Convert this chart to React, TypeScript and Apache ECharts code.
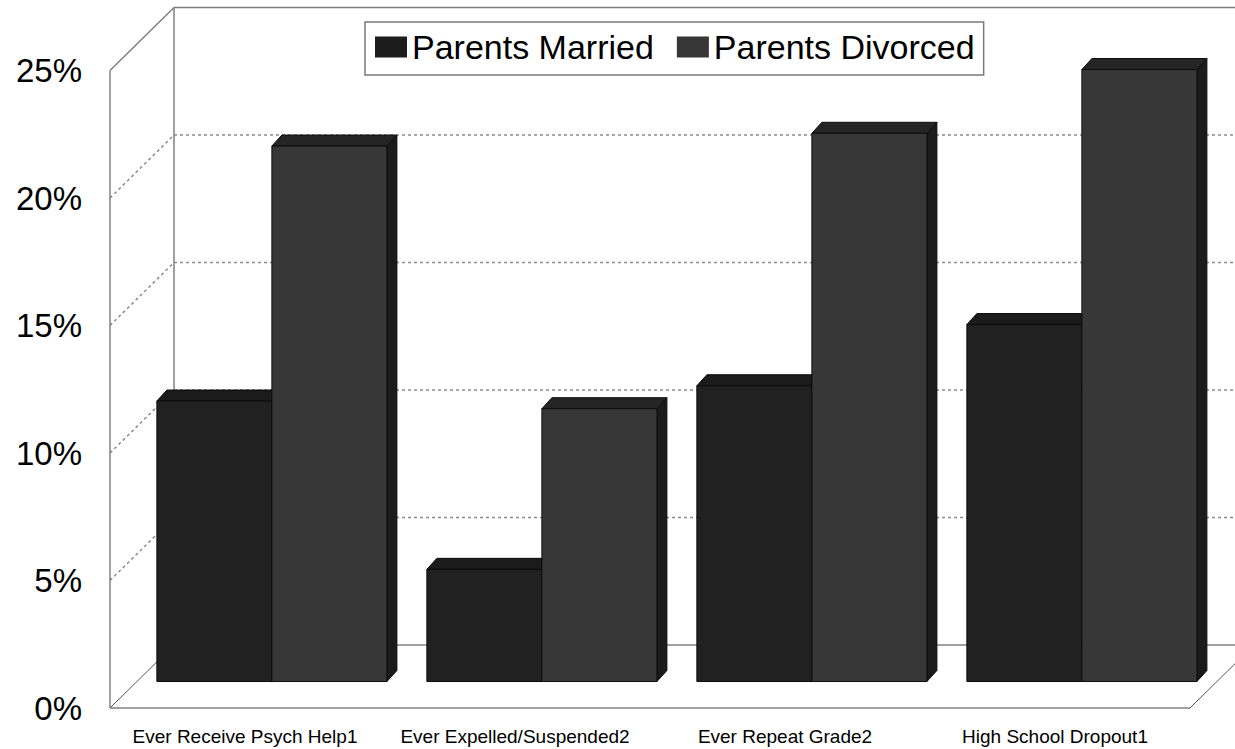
import React, { useEffect, useRef } from "react";
import * as echarts from "echarts";

const CATEGORIES = [
  "Ever Receive Psych Help1",
  "Ever Expelled/Suspended2",
  "Ever Repeat Grade2",
  "High School Dropout1",
];
const SERIES_NAMES = ["Parents Married", "Parents Divorced"];
const MARRIED = [11.0, 4.4, 11.6, 14.0];
const DIVORCED = [21.0, 10.7, 21.5, 24.0];
const Y_TICKS = [0, 5, 10, 15, 20, 25];

const FONT = '"Liberation Sans", Arial, Helvetica, sans-serif';
const DEPTH = [64, -63];
const BAR_PLANE = 0.42;
const BAR_FRAC = 0.426;
const BAR_DEPTH = [10, -11];

const MARRIED_COLORS = { front: "#212121", top: "#1b1b1b", side: "#161616" };
const DIVORCED_COLORS = { front: "#373737", top: "#252525", side: "#1b1b1b" };
const EDGE = "#0c0c0c";
const FRAME = "#808080";

function makeBarRenderer(seriesIdx: number, colors: any) {
  return (params: any, api: any) => {
    const cat = api.value(0);
    const val = api.value(1);
    const top = api.coord([cat, val]);
    const base = api.coord([cat, 0]);
    const catW = api.size([1, 0])[0];
    const bw = catW * BAR_FRAC;
    const ox = DEPTH[0] * BAR_PLANE;
    const oy = DEPTH[1] * BAR_PLANE;
    const cx = top[0] + ox;
    const x0 = seriesIdx === 0 ? cx - bw : cx;
    const x1 = x0 + bw;
    const yT = top[1] + oy;
    const yB = base[1] + oy;
    const dx = BAR_DEPTH[0];
    const dy = BAR_DEPTH[1];
    const st = { stroke: EDGE, lineWidth: 1 };
    return {
      type: "group",
      children: [
        {
          type: "polygon",
          shape: { points: [[x1, yT], [x1 + dx, yT + dy], [x1 + dx, yB + dy], [x1, yB]] },
          style: { fill: colors.side, ...st },
        },
        {
          type: "polygon",
          shape: { points: [[x0, yT], [x0 + dx, yT + dy], [x1 + dx, yT + dy], [x1, yT]] },
          style: { fill: colors.top, ...st },
        },
        {
          type: "rect",
          shape: { x: x0, y: yT, width: bw, height: yB - yT },
          style: { fill: colors.front, ...st },
        },
      ],
    };
  };
}

function frameRenderer(params: any, api: any) {
  const cs = params.coordSys;
  const L = cs.x;
  const R = cs.x + cs.width;
  const [dx, dy] = DEPTH;
  const children: any[] = [];
  const solid = { stroke: FRAME, lineWidth: 1.5, fill: null };
  const dashed = { stroke: "#8a8a8a", lineWidth: 1.5, lineDash: [3, 3], fill: null };
  const line = (x1: number, y1: number, x2: number, y2: number, style: any) =>
    children.push({ type: "line", shape: { x1, y1, x2, y2 }, style });
  const tMin = Y_TICKS[0];
  const tMax = Y_TICKS[Y_TICKS.length - 1];
  Y_TICKS.forEach((t) => {
    const y = api.coord([0, t])[1];
    if (t === tMin) {
      line(L, y, L + dx, y + dy, { stroke: "#555", lineWidth: 1, fill: null });
      line(L + dx, y + dy, R + dx, y + dy, solid);
      line(R, y, R + dx, y + dy, { stroke: "#555", lineWidth: 1, fill: null });
      line(L, y, R, y, solid);
    } else if (t === tMax) {
      line(L, y, L + dx, y + dy, solid);
      line(L + dx, y + dy, R + dx, y + dy, solid);
    } else {
      line(L, y, L + dx, y + dy, dashed);
      line(L + dx, y + dy, R + dx, y + dy, dashed);
    }
  });
  const y0 = api.coord([0, tMin])[1];
  const y1 = api.coord([0, tMax])[1];
  line(L, y0, L, y1, solid);
  line(L + dx, y0 + dy, L + dx, y1 + dy, solid);
  line(R + dx, y0 + dy, R + dx, y1 + dy, solid);
  return { type: "group", children };
}

export default function App() {
  const ref = useRef<HTMLDivElement>(null);
  useEffect(() => {
    if (!ref.current) return;
    const chart = echarts.init(ref.current, null, { renderer: "svg" });
    chart.setOption({
      animation: false,
      backgroundColor: "#ffffff",
      textStyle: { fontFamily: FONT },
      legend: {
        data: SERIES_NAMES,
        left: 365,
        top: 22,
        orient: "horizontal",
        padding: [8, 9, 11, 10],
        itemGap: 23,
        itemWidth: 32,
        itemHeight: 21,
        icon: "rect",
        borderColor: "#7a7a7a",
        borderWidth: 1.5,
        backgroundColor: "#ffffff",
        textStyle: { fontSize: 34, color: "#000", fontFamily: FONT },
        selectedMode: false,
      },
      grid: { left: 110, top: 70.5, width: 1080, height: 637.5, containLabel: false },
      xAxis: {
        type: "category",
        data: CATEGORIES,
        boundaryGap: true,
        axisLine: { show: false },
        axisTick: { show: false },
        splitLine: { show: false },
        axisLabel: { fontSize: 19, color: "#000", margin: 19, fontFamily: FONT, interval: 0 },
      },
      yAxis: {
        type: "value",
        min: 0,
        max: 25,
        interval: 5,
        axisLine: { show: false },
        axisTick: { show: false },
        splitLine: { show: false },
        axisLabel: { fontSize: 33, color: "#000", margin: 28, fontFamily: FONT, formatter: "{value}%" },
      },
      series: [
        {
          type: "custom",
          name: "frame",
          silent: true,
          clip: false,
          z: 1,
          renderItem: frameRenderer,
          data: [[0, 0]],
          encode: { x: 0, y: 1 },
        },
        {
          type: "custom",
          name: SERIES_NAMES[0],
          clip: false,
          z: 2,
          itemStyle: { color: "#1c1c1c" },
          renderItem: makeBarRenderer(0, MARRIED_COLORS),
          data: MARRIED.map((v, i) => [i, v]),
          encode: { x: 0, y: 1 },
        },
        {
          type: "custom",
          name: SERIES_NAMES[1],
          clip: false,
          z: 3,
          itemStyle: { color: "#363636" },
          renderItem: makeBarRenderer(1, DIVORCED_COLORS),
          data: DIVORCED.map((v, i) => [i, v]),
          encode: { x: 0, y: 1 },
        },
      ],
    });
    return () => chart.dispose();
  }, []);
  return (
    <div
      ref={ref}
      style={{ position: "absolute", left: 0, top: 0, width: 1235, height: 749, background: "#fff" }}
    />
  );
}
